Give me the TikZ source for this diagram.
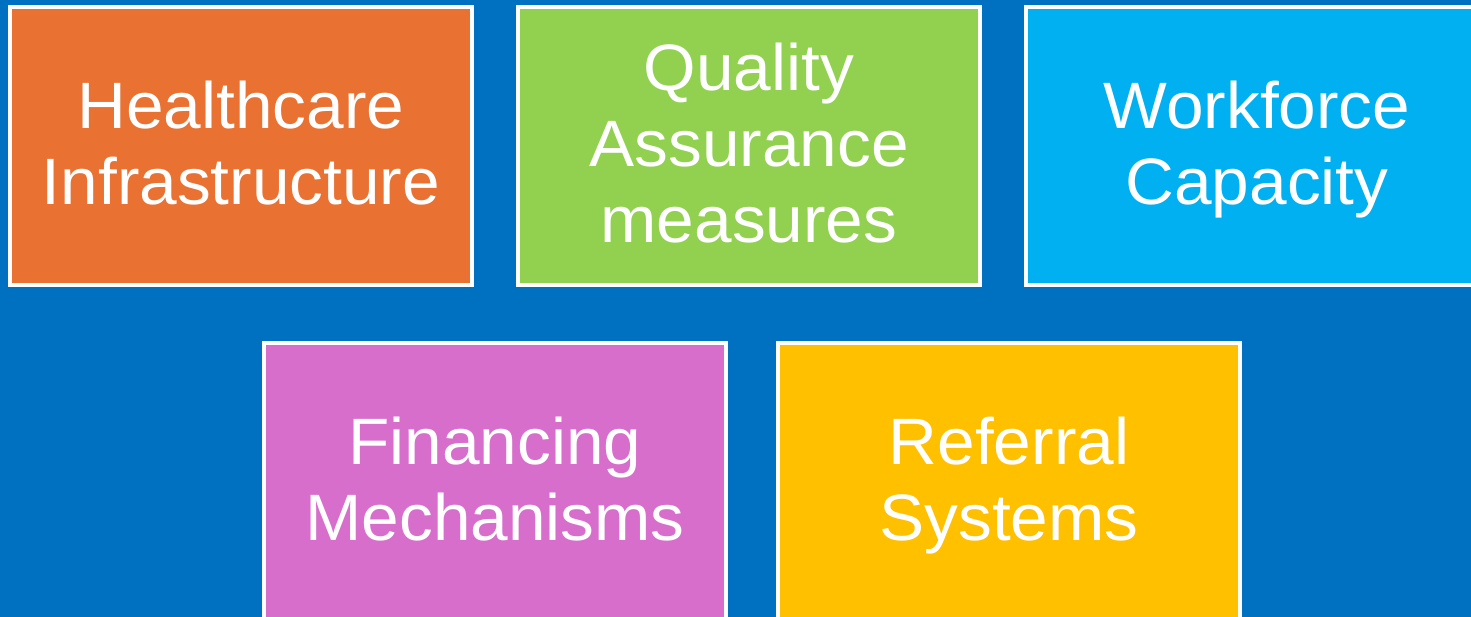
\documentclass[tikz,border=0pt]{standalone}
\usepackage{fontspec}
\setmainfont{Liberation Sans}[FakeStretch=1.03]
\definecolor{bgblue}{HTML}{0070C0}
\definecolor{boxorange}{HTML}{E97132}
\definecolor{boxgreen}{HTML}{92D050}
\definecolor{boxcyan}{HTML}{00B0F0}
\definecolor{boxpurple}{HTML}{D86ECC}
\definecolor{boxgold}{HTML}{FFC000}
% fixed line strut so every line has the same ascent and descent
\newcommand{\lnstrut}{\rule[-14pt]{0pt}{69pt}}
\begin{document}
\begin{tikzpicture}[x=1pt,y=-1pt,
  tile/.style={draw=white, line width=4pt, minimum width=462pt, minimum height=278pt,
    inner sep=0pt, align=center, text=white,
    font=\fontsize{65.6}{76}\selectfont}]
  % page and backdrop
  \path[use as bounding box] (0,0) rectangle (1471,617);
  \clip (0,0) rectangle (1471,617);
  \fill[bgblue] (0,0) rectangle (1471,617);
  % top row
  \node[tile, fill=boxorange] (infra) at (241,146) {\lnstrut Healthcare\\\lnstrut Infrastructure};
  \node[tile, fill=boxgreen]  (qa)    at (749,146) {\lnstrut Quality\\\lnstrut Assurance\\\lnstrut measures};
  \node[tile, fill=boxcyan]   (work)  at (1257,146) {\lnstrut Workforce\\\lnstrut Capacity};
  % bottom row
  \node[tile, fill=boxpurple] (fin)   at (495,482) {\lnstrut Financing\\\lnstrut Mechanisms};
  \node[tile, fill=boxgold]   (ref)   at (1009,482) {\lnstrut Referral\\\lnstrut Systems};
\end{tikzpicture}
\end{document}
